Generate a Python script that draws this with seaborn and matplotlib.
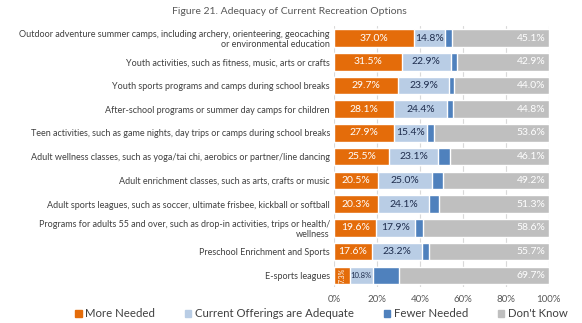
import matplotlib
matplotlib.use("Agg")
import matplotlib.pyplot as plt
import seaborn as sns
import numpy as np
import pandas as pd

categories = [
    "Outdoor adventure summer camps, including archery, orienteering, geocaching\nor environmental education",
    "Youth activities, such as fitness, music, arts or crafts",
    "Youth sports programs and camps during school breaks",
    "After-school programs or summer day camps for children",
    "Teen activities, such as game nights, day trips or camps during school breaks",
    "Adult wellness classes, such as yoga/tai chi, aerobics or partner/line dancing",
    "Adult enrichment classes, such as arts, crafts or music",
    "Adult sports leagues, such as soccer, ultimate frisbee, kickball or softball",
    "Programs for adults 55 and over, such as drop-in activities, trips or health/\nwellness",
    "Preschool Enrichment and Sports",
    "E-sports leagues",
]
more_needed = [37.0, 31.5, 29.7, 28.1, 27.9, 25.5, 20.5, 20.3, 19.6, 17.6, 7.3]
adequate = [14.8, 22.9, 23.9, 24.4, 15.4, 23.1, 25.0, 24.1, 17.9, 23.2, 10.8]
fewer_needed = [3.1, 2.7, 2.4, 2.7, 3.1, 5.3, 5.3, 4.3, 3.9, 3.5, 12.2]
dont_know = [45.1, 42.9, 44.0, 44.8, 53.6, 46.1, 49.2, 51.3, 58.6, 55.7, 69.7]
series_names = ["More Needed", "Current Offerings are Adequate", "Fewer Needed", "Don't Know"]
xticks = [0, 20, 40, 60, 80, 100]
title = "Figure 21. Adequacy of Current Recreation Options"

colors = ["#E46C0A", "#B9CDE5", "#4F81BD", "#BFBFBF"]

sns.set_theme(style="white")
plt.rcParams['font.family'] = ['Lato', 'DejaVu Sans']

fig = plt.figure(figsize=(5.82, 3.23), dpi=100)
ax = fig.add_axes([0.574, 0.111, 0.369, 0.808])

df = pd.DataFrame({"cat": categories, "more": more_needed, "adeq": adequate,
                   "fewer": fewer_needed, "dk": dont_know})
c1 = df["more"]
c2 = c1 + df["adeq"]
c3 = c2 + df["fewer"]
c4 = c3 + df["dk"]
cums = [c1, c2, c3, c4]

for i in [3, 2, 1, 0]:
    d = pd.DataFrame({"cat": categories, "v": cums[i].values})
    sns.barplot(data=d, y="cat", x="v", color=colors[i], orient="h", width=0.74,
                saturation=1, ax=ax, order=categories)

for j in range(len(categories)):
    m, a, dk = more_needed[j], adequate[j], dont_know[j]
    if m < 10:
        ax.text(m / 2, j, f"{m:.1f}%", ha="center", va="center", rotation=90,
                fontsize=5, color="white")
    else:
        ax.text(m / 2, j, f"{m:.1f}%", ha="center", va="center", fontsize=7.5,
                color="white")
    fs = 5.5 if a < 12 else 7.5
    ax.text(m + a / 2, j, f"{a:.1f}%", ha="center", va="center", fontsize=fs,
            color="#1F2D4D")
    ax.text(98.5, j, f"{dk:.1f}%", ha="right", va="center", fontsize=7.5, color="white")

ax.set_xlim(0, 100)
ax.set_ylim(len(categories) - 0.5, -0.5)
ax.set_xticks(xticks)
ax.set_xticklabels([f"{t}%" for t in xticks], fontsize=7, color="#595959")
ax.tick_params(axis="y", labelsize=6.5, colors="#404040", length=0, pad=3)
ax.tick_params(axis="x", length=0, pad=6)
ax.set_xlabel("")
ax.set_ylabel("")
for lab in ax.get_yticklabels():
    lab.set_multialignment("right")
ax.grid(axis="x", color="#D9D9D9", linewidth=0.8)
ax.set_axisbelow(True)
for s in ax.spines.values():
    s.set_visible(False)

handles = [plt.Rectangle((0, 0), 1, 1, color=c) for c in colors]
fig.legend(handles, series_names, loc="center", bbox_to_anchor=(0.552, 0.028), ncol=4,
           frameon=False, fontsize=8.2, handlelength=0.6, handleheight=0.6,
           handletextpad=0.3, columnspacing=2.6, labelcolor="#404040")

fig.text(0.497, 0.963, title, ha="center", va="center", fontsize=7.5, color="#595959")

fig.savefig("out.png", dpi=100)
